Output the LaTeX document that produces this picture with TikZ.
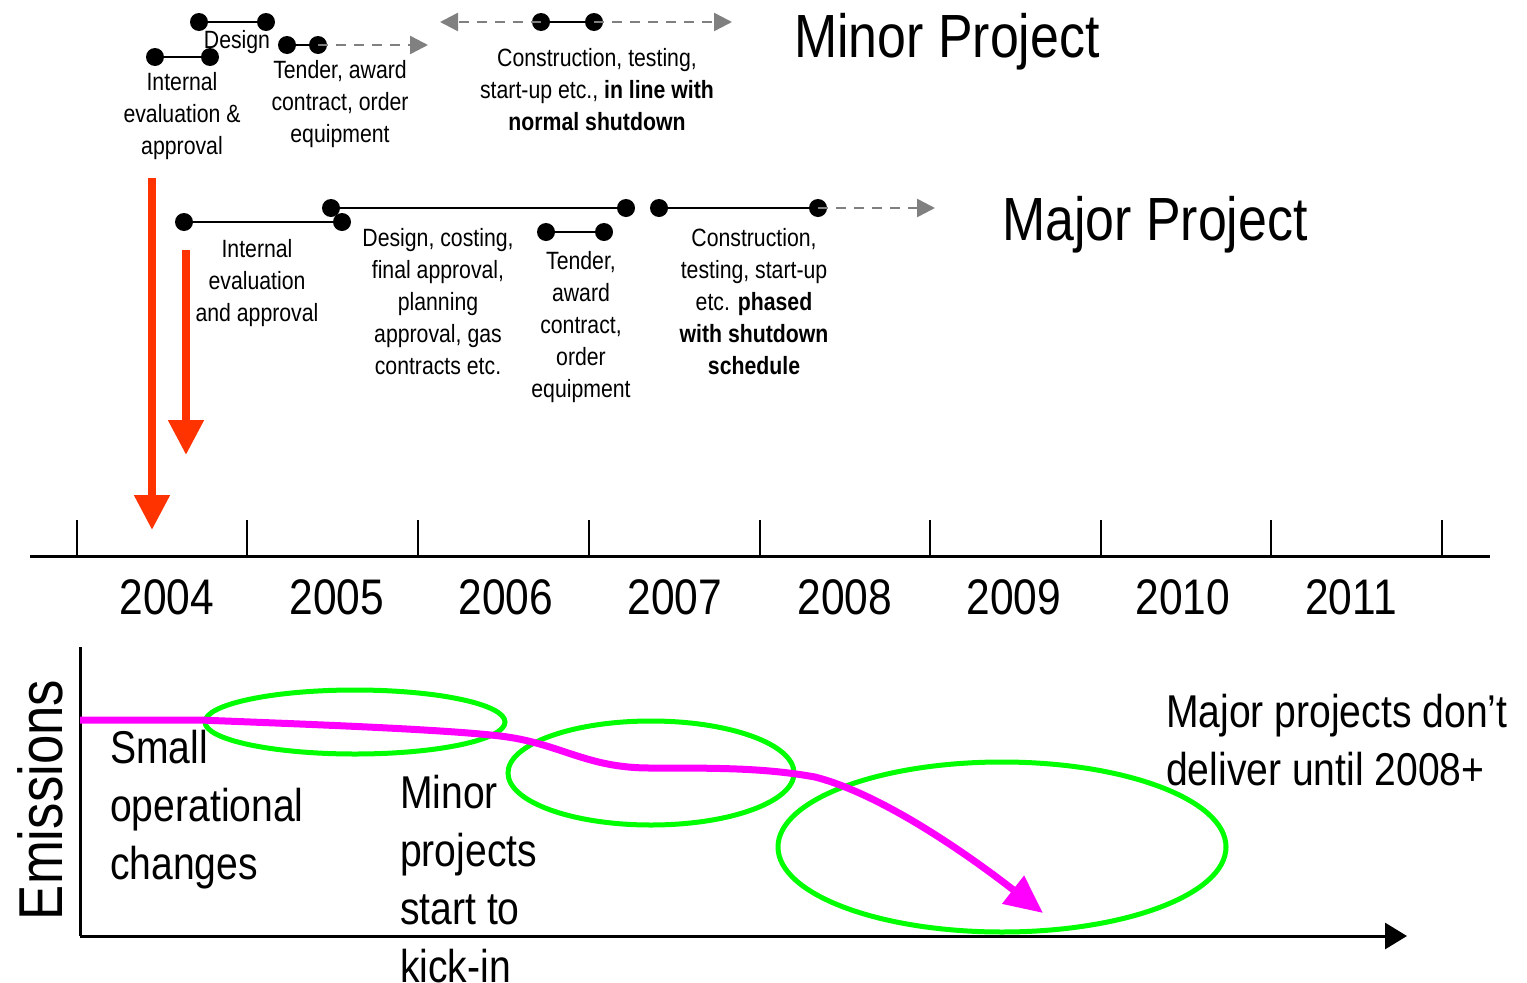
\documentclass[tikz,border=0pt]{standalone}
\usepackage{fontspec}
\setmainfont{Liberation Sans}[FakeStretch=0.85]
\usetikzlibrary{arrows.meta}
\definecolor{redarr}{HTML}{FF3300}
\definecolor{dashgray}{HTML}{808080}
\definecolor{mag}{HTML}{FF00FF}
\definecolor{grn}{HTML}{00FF00}
\tikzset{
  dot/.style={circle,fill=black,inner sep=0pt,minimum size=18pt},
  bar/.style={line width=2.5pt,black},
  dasharr/.style={dashgray,line width=2.5pt,dash pattern=on 10pt off 8pt,-{Triangle[length=18pt,width=18pt]}},
  small/.style={align=center,inner sep=0pt,font=\fontsize{25}{32}\selectfont},
  title/.style={inner sep=0pt,font=\fontsize{61}{70}\selectfont},
  year/.style={inner sep=0pt,font=\fontsize{50}{60}\selectfont},
  big/.style={align=left,inner sep=0pt,anchor=west,font=\fontsize{46}{58}\selectfont},
  redarrow/.style={redarr,line width=8pt,-{Triangle[length=35pt,width=34pt]}},
  ell/.style={grn,line width=5pt},
  tick/.style={line width=2.5pt}
}
\begin{document}
\begin{tikzpicture}[x=1pt,y=-1pt]
\useasboundingbox (0,0) rectangle (1527,983);
% ---------- Minor project ----------
\node[dot] (md1) at (199,22) {};
\node[dot] (md2) at (266,22) {};
\draw[bar] (md1) -- (md2);
\node[dot] (mi1) at (155,57) {};
\node[dot] (mi2) at (210,57) {};
\draw[bar] (mi1) -- (mi2);
\node[dot] (mt1) at (287,45) {};
\node[dot] (mt2) at (318,45) {};
\draw[bar] (mt1) -- (mt2);
\coordinate (mtend) at (428,45);
\draw[dasharr] (mt2.center) -- (mtend);
\node[dot] (mc1) at (541,22) {};
\node[dot] (mc2) at (594,22) {};
\draw[bar] (mc1) -- (mc2);
\coordinate (mcl) at (440,22);
\coordinate (mcr) at (732,22);
\draw[dasharr] (mc1.center) -- (mcl);
\draw[dasharr] (mc2.center) -- (mcr);
\node[small] (tdesign) at (237,42) {Design};
\node[small] (tmi) at (182,116) {Internal\\evaluation \&\\approval};
\node[small] (tmt) at (340,104) {Tender, award\\contract, order\\equipment};
\node[small] (tmc) at (597,90) {Construction, testing,\\start-up etc., \textbf{in line with}\\\textbf{normal shutdown}};
\node[title] (minor) at (947,42) {Minor Project};
% ---------- Major project ----------
\node[dot] (Mi1) at (184,222) {};
\node[dot] (Mi2) at (342,222) {};
\draw[bar] (Mi1) -- (Mi2);
\node[dot] (Md1) at (331,208) {};
\node[dot] (Md2) at (626,208) {};
\draw[bar] (Md1) -- (Md2);
\node[dot] (Mt1) at (546,232) {};
\node[dot] (Mt2) at (604,232) {};
\draw[bar] (Mt1) -- (Mt2);
\node[dot] (Mc1) at (659,208) {};
\node[dot] (Mc2) at (818,208) {};
\draw[bar] (Mc1) -- (Mc2);
\coordinate (Mcend) at (935,208);
\draw[dasharr] (Mc2.center) -- (Mcend);
\node[small] (tMi) at (257,283) {Internal\\evaluation\\and approval};
\node[small] (tMd) at (438,302) {Design, costing,\\final approval,\\planning\\approval, gas\\contracts etc.};
\node[small] (tMt) at (581,327) {Tender,\\award\\contract,\\order\\equipment};
\node[small] (tMc) at (754,302) {Construction,\\testing, start-up\\etc. \textbf{phased}\\\textbf{with shutdown}\\\textbf{schedule}};
\node[title] (major) at (1155,225) {Major Project};
% ---------- red arrows ----------
\coordinate (r1s) at (152,178);
\coordinate (r1e) at (152,530);
\draw[redarrow] (r1s) -- (r1e);
\coordinate (r2s) at (186,250);
\coordinate (r2e) at (186,455);
\draw[redarrow] (r2s) -- (r2e);
% ---------- timeline ----------
\coordinate (tl1) at (30,556);
\coordinate (tl2) at (1490,556);
\draw[line width=3pt] (tl1) -- (tl2);
\foreach \x in {77,247,418,589,760,930,1101,1271,1442}
  \draw[tick] (\x,520) -- (\x,556);
\foreach \x/\y in {167/2004,337/2005,506/2006,675/2007,845/2008,1014/2009,1183/2010,1351/2011}
  \node[year] (y\y) at (\x,597) {\y};
% ---------- emissions chart ----------
\coordinate (o) at (80,936);
\coordinate (ytop) at (80,647);
\coordinate (xend) at (1407,936);
\draw[line width=3pt] (ytop) -- (o);
\draw[line width=3pt,-{Triangle[length=22pt,width=26pt]}] (o) -- (xend);
\node[inner sep=0pt,rotate=90,font=\fontsize{62}{70}\selectfont] (emis) at (40,800) {Emissions};
\draw[ell] (355,722) ellipse [x radius=150, y radius=32];
\draw[ell] (651,773) ellipse [x radius=143, y radius=52];
\draw[ell] (1002,847) ellipse [x radius=224, y radius=85];
\coordinate (cs) at (80,720);
\coordinate (ce) at (1043,913);
\draw[mag,line width=7pt,-{Triangle[length=38pt,width=34pt]}] (cs) -- (200,720)
  .. controls (300,724) and (440,729) .. (500,736)
  .. controls (560,743) and (585,768) .. (650,768)
  .. controls (720,768) and (765,768) .. (815,777)
  .. controls (885,795) and (975,860) .. (ce);
\node[big] (tsmall) at (110,810) {Small\\operational\\changes};
\node[big] (tminor) at (400,879) {Minor\\projects\\start to\\kick-in};
\node[big] (tmajor) at (1166,740) {Major projects don’t\\deliver until 2008+};
\end{tikzpicture}
\end{document}
